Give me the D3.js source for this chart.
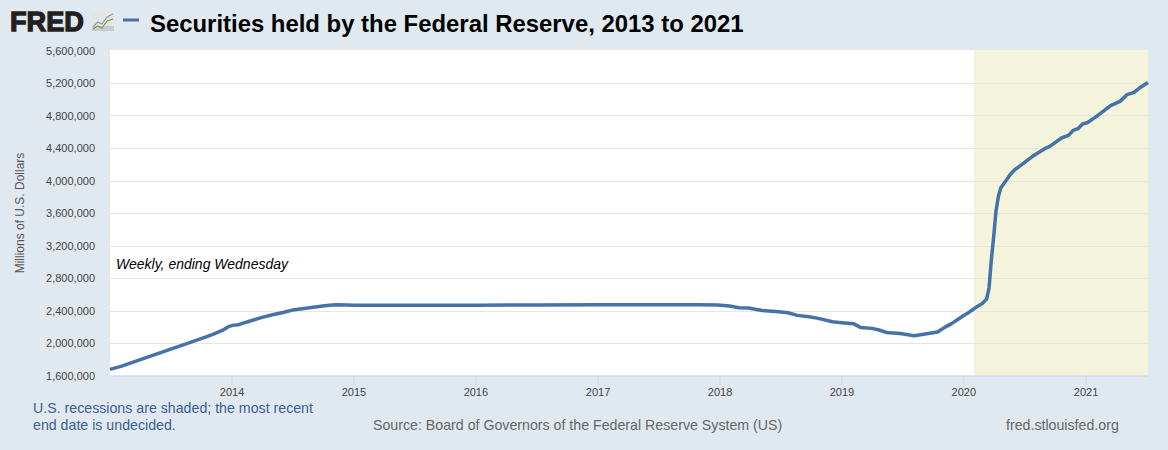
<!DOCTYPE html>
<html><head><meta charset="utf-8">
<script src="https://cdn.jsdelivr.net/npm/d3@7/dist/d3.min.js"></script>
<style>html,body{margin:0;padding:0;background:#e1e9f0;overflow:hidden}svg{display:block}text{font-family:"Liberation Sans",Arial,sans-serif}</style>
</head><body><svg id="c" width="1168" height="450"></svg>
<script>
const dates=["2013-01-02","2013-02-06","2013-03-06","2013-04-03","2013-05-01","2013-06-05","2013-07-03","2013-08-07","2013-09-04","2013-10-02","2013-11-06","2013-12-04","2013-12-25","2014-01-08","2014-01-22","2014-02-05","2014-03-05","2014-04-02","2014-05-07","2014-06-04","2014-07-02","2014-08-06","2014-09-03","2014-10-01","2014-10-29","2014-11-12","2015-01-07","2015-07-01","2016-01-06","2016-07-06","2017-01-04","2017-07-05","2017-10-25","2017-12-27","2018-01-31","2018-02-28","2018-03-28","2018-05-09","2018-06-27","2018-07-25","2018-08-22","2018-09-26","2018-10-24","2018-12-05","2019-01-02","2019-02-06","2019-02-27","2019-04-03","2019-04-24","2019-05-15","2019-06-26","2019-08-07","2019-10-16","2019-11-06","2019-11-27","2020-01-01","2020-01-15","2020-02-12","2020-02-26","2020-03-11","2020-03-18","2020-03-25","2020-04-01","2020-04-08","2020-04-15","2020-04-22","2020-05-06","2020-05-20","2020-06-03","2020-06-24","2020-07-29","2020-09-02","2020-09-16","2020-10-21","2020-11-11","2020-11-25","2020-12-09","2020-12-23","2021-01-06","2021-02-03","2021-03-17","2021-04-14","2021-05-05","2021-05-26","2021-06-16","2021-07-07"];
const securities=[1675000,1715000,1755000,1795000,1835000,1885000,1925000,1975000,2015000,2055000,2105000,2155000,2205000,2220000,2225000,2245000,2280000,2315000,2350000,2375000,2405000,2425000,2440000,2455000,2468000,2470000,2466000,2464000,2466000,2468000,2470000,2471000,2472000,2468000,2455000,2434000,2431000,2401000,2385000,2373000,2340000,2324000,2303000,2262000,2250000,2238000,2192000,2180000,2160000,2130000,2118000,2090000,2135000,2192000,2238000,2336000,2369000,2450000,2484000,2542000,2677000,3025000,3312000,3628000,3804000,3908000,3989000,4071000,4133000,4195000,4305000,4395000,4420000,4523000,4555000,4617000,4638000,4695000,4711000,4789000,4921000,4974000,5056000,5084000,5151000,5207000];
const yTicks=[1600000,2000000,2400000,2800000,3200000,3600000,4000000,4400000,4800000,5200000,5600000];
const xTicks=["2014-01-01","2015-01-01","2016-01-01","2017-01-01","2018-01-01","2019-01-01","2020-01-01","2021-01-01"];
const recession=["2020-02-01","2021-07-07"];

const parse=d3.utcParse("%Y-%m-%d");
const svg=d3.select("#c");
const L=110,R=1148,T=50,B=375.5;
const x=d3.scaleUtc().domain([parse(dates[0]),parse(dates[dates.length-1])]).range([L,R]);
const y=d3.scaleLinear().domain([1600000,5600000]).range([B,50.5]);

// FRED logo
svg.append("text").attr("x",10).attr("y",31).attr("font-size",28).attr("font-weight","bold")
  .attr("fill","#231f20").attr("stroke","#231f20").attr("stroke-width",1.3).attr("textLength",74).attr("lengthAdjust","spacingAndGlyphs").text("FRED");
const ic=svg.append("g").attr("transform","translate(92,11)");
ic.append("rect").attr("width",22).attr("height",20).attr("fill","#e4e6e4");
ic.append("rect").attr("y",15).attr("width",22).attr("height",5).attr("fill","#c9cdc9");
ic.append("path").attr("d","M1 16L6 11L10 13L15 6L21 3").attr("fill","none").attr("stroke","#7f9bb8").attr("stroke-width",1.1);
ic.append("path").attr("d","M1 18L6 15L10 17L15 10L21 8").attr("fill","none").attr("stroke","#7c9a3c").attr("stroke-width",1.1);

// legend + title
svg.append("line").attr("x1",123).attr("x2",139).attr("y1",20).attr("y2",20).attr("stroke","#4572a7").attr("stroke-width",3);
svg.append("text").attr("x",150).attr("y",32).attr("font-size",23.9).attr("font-weight","bold").attr("fill","#000").text("Securities held by the Federal Reserve, 2013 to 2021");

// plot
svg.append("rect").attr("x",L).attr("y",T).attr("width",R-L).attr("height",B-T).attr("fill","#fff");
svg.append("rect").attr("x",x(parse(recession[0]))).attr("y",T).attr("width",R-x(parse(recession[0]))).attr("height",B-T).attr("fill","#f4f3dc");

const ya=d3.axisLeft(y).tickValues(yTicks).tickFormat(d3.format(",")).tickSize(0).tickPadding(15);
const gy=svg.append("g").attr("transform",`translate(${L},0)`).call(ya);
gy.select(".domain").remove();
gy.selectAll("text").attr("font-size",11).attr("fill","#444").attr("font-family",'"Liberation Sans",Arial,sans-serif');
svg.append("g").selectAll("line").data(yTicks.slice(1,-1)).join("line")
  .attr("x1",L).attr("x2",R).attr("y1",d=>Math.round(y(d))+.5).attr("y2",d=>Math.round(y(d))+.5).attr("stroke","#e6e6e6");

const xa=d3.axisBottom(x).tickValues(xTicks.map(parse)).tickFormat(d3.utcFormat("%Y")).tickSize(10).tickSizeOuter(0).tickPadding(3);
const gx=svg.append("g").attr("transform",`translate(0,${B})`).call(xa);
gx.select(".domain").attr("stroke","#ccd6eb");
gx.selectAll("line").attr("stroke","#ccd6eb");
gx.selectAll("text").attr("font-size",11).attr("fill","#444").attr("font-family",'"Liberation Sans",Arial,sans-serif');

const line=d3.line().x((d,i)=>x(parse(dates[i]))).y(d=>y(d));
svg.append("path").datum(securities).attr("d",line).attr("fill","none").attr("stroke","#4572a7").attr("stroke-width",3.5).attr("stroke-linejoin","round");

svg.append("text").attr("x",116).attr("y",269).attr("font-size",14).attr("font-style","italic").attr("fill","#000").text("Weekly, ending Wednesday");
svg.append("text").attr("transform","translate(24,213) rotate(-90)").attr("text-anchor","middle").attr("font-size",12).attr("fill","#555").text("Millions of U.S. Dollars");
svg.append("text").attr("x",33).attr("y",413).attr("font-size",14.2).attr("fill","#3a5f9a").text("U.S. recessions are shaded; the most recent");
svg.append("text").attr("x",33).attr("y",430).attr("font-size",14.2).attr("fill","#3a5f9a").text("end date is undecided.");
svg.append("text").attr("x",373).attr("y",430).attr("font-size",14.2).attr("fill","#666").text("Source: Board of Governors of the Federal Reserve System (US)");
svg.append("text").attr("x",1006).attr("y",430).attr("font-size",14.2).attr("fill","#666").text("fred.stlouisfed.org");
</script></body></html>
